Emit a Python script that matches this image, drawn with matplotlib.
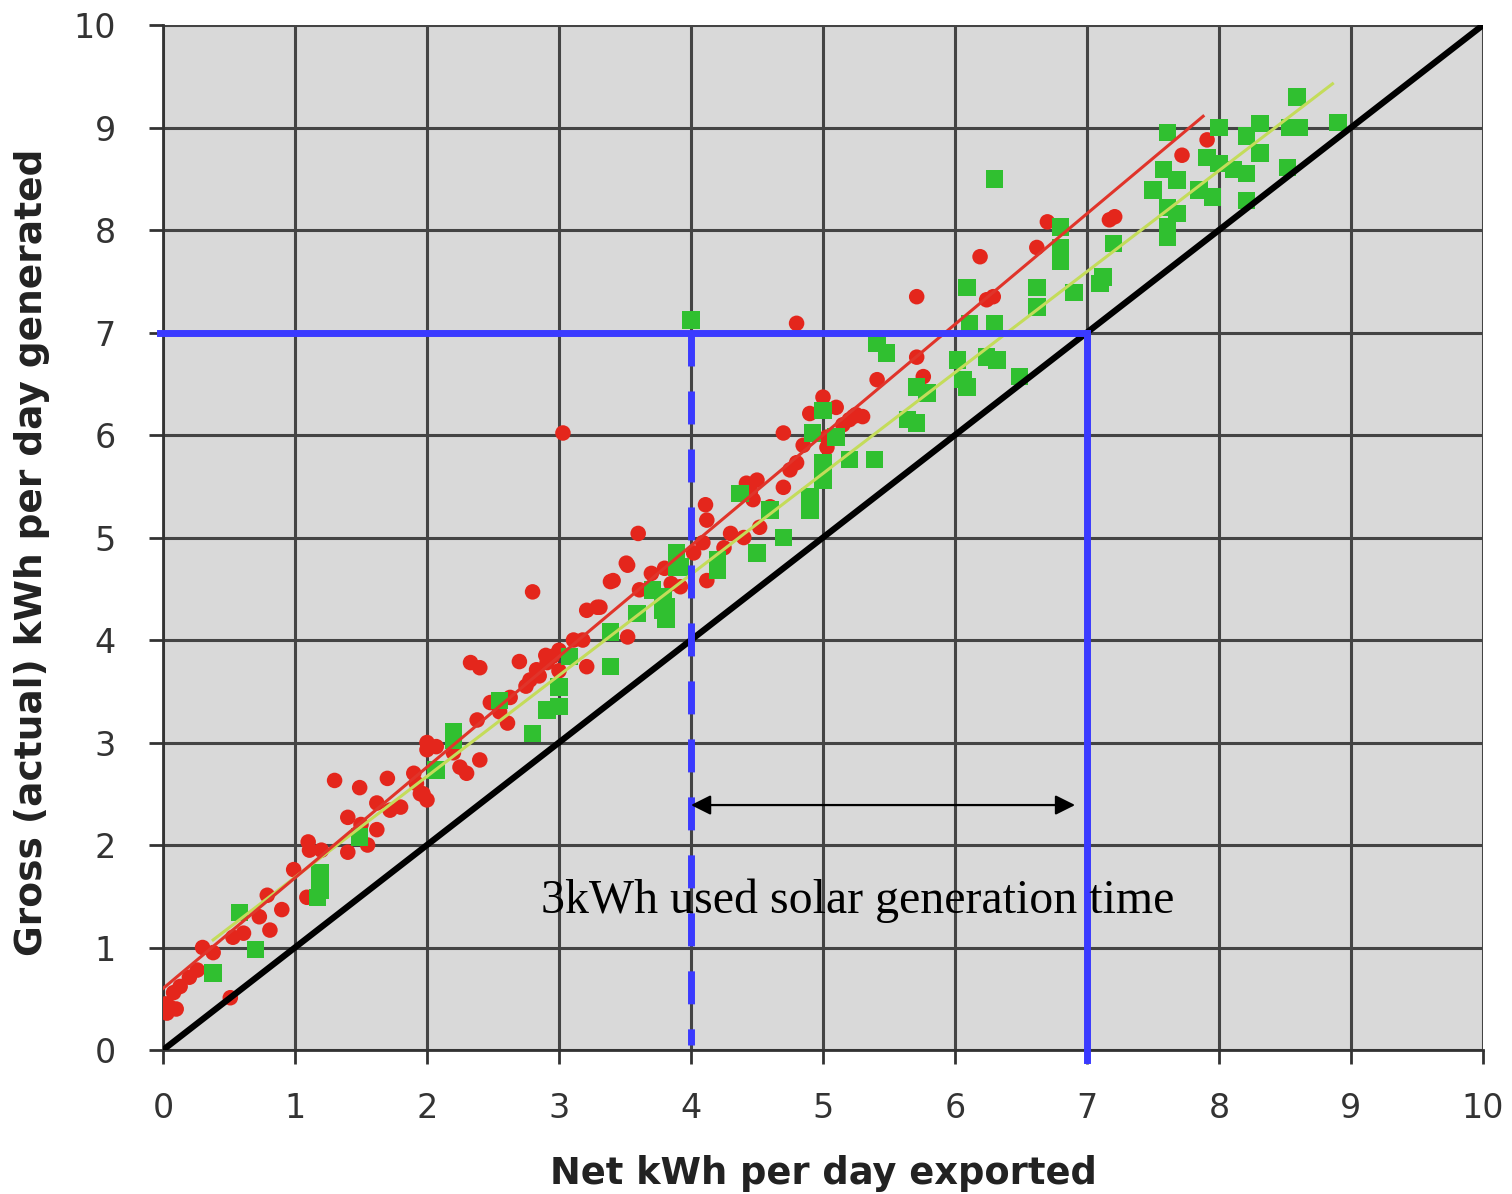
import matplotlib
matplotlib.use("Agg")
import matplotlib.pyplot as plt
import numpy as np

# net exported (x) vs gross generated (y)
red_x = [0.03, 0.05, 0.02, 0.08, 0.10, 0.13, 0.20, 0.26, 0.30, 0.38, 0.51, 0.53, 0.61, 0.73, 0.79,
         0.81, 0.90, 0.99, 1.09, 1.10, 1.11, 1.20, 1.30, 1.40, 1.40, 1.49, 1.50, 1.55, 1.62, 1.62,
         1.70, 1.72, 1.80, 1.90, 1.92, 1.95, 1.97, 2.00, 2.00, 2.00, 2.07, 2.20, 2.25, 2.30, 2.33,
         2.38, 2.40, 2.40, 2.48, 2.55, 2.61, 2.63, 2.70, 2.75, 2.78, 2.80, 2.83, 2.85, 2.90, 2.91,
         2.95, 3.00, 3.00, 3.03, 3.11, 3.18, 3.21, 3.21, 3.29, 3.31, 3.39, 3.41, 3.51, 3.52, 3.52,
         3.60, 3.61, 3.70, 3.80, 3.85, 3.92, 4.02, 4.09, 4.11, 4.12, 4.12, 4.20, 4.25, 4.30, 4.40,
         4.42, 4.45, 4.47, 4.50, 4.52, 4.60, 4.70, 4.70, 4.75, 4.80, 4.80, 4.85, 4.90, 5.00, 5.03,
         5.03, 5.10, 5.15, 5.20, 5.23, 5.25, 5.30, 5.41, 5.71, 5.71, 5.76, 6.19, 6.24, 6.29, 6.62,
         6.70, 7.17, 7.21, 7.72, 7.91]
red_y = [0.36, 0.42, 0.45, 0.56, 0.40, 0.62, 0.71, 0.78, 1.00, 0.95, 0.51, 1.10, 1.14, 1.30, 1.51,
         1.17, 1.37, 1.76, 1.49, 2.03, 1.95, 1.95, 2.63, 2.27, 1.93, 2.56, 2.20, 2.00, 2.41, 2.15,
         2.65, 2.34, 2.37, 2.70, 2.60, 2.50, 2.50, 2.44, 2.93, 3.00, 2.96, 2.90, 2.76, 2.70, 3.78,
         3.22, 3.73, 2.83, 3.39, 3.30, 3.19, 3.44, 3.79, 3.55, 3.61, 4.47, 3.71, 3.65, 3.85, 3.78,
         3.84, 3.70, 3.90, 6.02, 4.00, 4.00, 3.74, 4.29, 4.32, 4.32, 4.57, 4.58, 4.75, 4.73, 4.03,
         5.04, 4.49, 4.65, 4.70, 4.55, 4.52, 4.85, 4.95, 5.32, 5.17, 4.58, 4.75, 4.90, 5.04, 5.00,
         5.53, 5.45, 5.37, 5.56, 5.10, 5.30, 6.02, 5.49, 5.66, 5.73, 7.09, 5.90, 6.21, 6.37, 5.98,
         5.88, 6.27, 6.10, 6.15, 6.18, 6.20, 6.18, 6.54, 7.35, 6.76, 6.57, 7.74, 7.32, 7.35, 7.83,
         8.08, 8.10, 8.13, 8.73, 8.88]

green_x = [0.38, 0.58, 0.70, 1.17, 1.19, 1.19, 1.49, 2.07, 2.20, 2.20, 2.55, 2.80, 2.91, 3.00, 3.00,
           3.08, 3.39, 3.39, 3.59, 3.71, 3.79, 3.79, 3.81, 3.81, 3.89, 3.89, 3.92, 4.00, 4.20, 4.20,
           4.37, 4.50, 4.60, 4.70, 4.90, 4.90, 4.92, 5.00, 5.00, 5.00, 5.10, 5.20, 5.39, 5.41, 5.48,
           5.64, 5.71, 5.71, 5.79, 6.02, 6.06, 6.09, 6.09, 6.11, 6.24, 6.30, 6.30, 6.32, 6.49, 6.62,
           6.62, 6.80, 6.80, 6.80, 6.90, 7.10, 7.12, 7.20, 7.50, 7.58, 7.61, 7.61, 7.61, 7.61, 7.68,
           7.68, 7.85, 7.91, 7.95, 8.00, 8.00, 8.11, 8.21, 8.21, 8.21, 8.31, 8.31, 8.52, 8.54, 8.59,
           8.61, 8.90]
green_y = [0.75, 1.34, 0.98, 1.49, 1.56, 1.73, 2.08, 2.73, 3.02, 3.10, 3.41, 3.09, 3.32, 3.35, 3.54,
           3.84, 3.74, 4.08, 4.26, 4.49, 4.29, 4.42, 4.32, 4.20, 4.71, 4.85, 4.71, 7.12, 4.78, 4.68,
           5.43, 4.85, 5.27, 5.00, 5.27, 5.40, 6.02, 5.56, 5.73, 6.24, 5.98, 5.76, 5.76, 6.90, 6.80,
           6.15, 6.47, 6.12, 6.41, 6.73, 6.54, 6.47, 7.44, 7.09, 6.76, 8.50, 7.09, 6.73, 6.57, 7.44,
           7.25, 8.03, 7.83, 7.70, 7.39, 7.48, 7.54, 7.87, 8.39, 8.59, 8.95, 8.22, 8.03, 7.93, 8.49,
           8.16, 8.39, 8.71, 8.32, 9.00, 8.65, 8.59, 8.92, 8.55, 8.29, 9.04, 8.75, 8.61, 9.00, 9.30,
           9.00, 9.05]

# trendlines as drawn: slope, intercept, x range
red_fit = (1.08, 0.60, 0.0, 7.88)
green_fit = (0.985, 0.70, 0.38, 8.86)

ticks = list(range(0, 11))

fig = plt.figure(figsize=(15.12, 11.94), dpi=100)
ax = fig.add_axes([0.1078, 0.1206, 0.8730, 0.8584])
ax.set_facecolor("#d9d9d9")
ax.set_xlim(0, 10)
ax.set_ylim(0, 10)
ax.set_xticks(ticks)
ax.set_yticks(ticks)
ax.grid(True, color="#444444", linewidth=2.2, zorder=0)
ax.set_axisbelow(True)
for s in ["top", "right"]:
    ax.spines[s].set_visible(False)
ax.spines["left"].set_color("#333333")
ax.spines["bottom"].set_color("#333333")
ax.spines["left"].set_linewidth(2)
ax.spines["bottom"].set_linewidth(2)
ax.tick_params(direction="out", length=10, width=2, color="#333333",
               labelsize=24, labelcolor="#333333")
ax.tick_params(axis="x", pad=20)
ax.tick_params(axis="y", pad=24)

ax.scatter(red_x, red_y, s=125, marker="o", color="#e4261c", edgecolors="none", zorder=3)
ax.scatter(green_x, green_y, s=160, marker="s", color="#30c030", edgecolors="none", zorder=3)

for (m, b, x0, x1), c in [(green_fit, "#c4dc5a"), (red_fit, "#e0342a")]:
    xs = np.array([x0, x1])
    ax.plot(xs, m * xs + b, color=c, linewidth=2.2, zorder=4)

# 1:1 line
ax.plot([0, 10], [0, 10], color="black", linewidth=4.5, zorder=5, solid_capstyle="butt")

blue = "#3a3aff"
ax.plot([-0.02, 7], [7, 7], color=blue, linewidth=5, zorder=6, clip_on=False)
ax.plot([7, 7], [7, -0.1], color=blue, linewidth=5, zorder=6, clip_on=False)
ax.plot([4, 4], [7, 0.05], color=blue, linewidth=5, zorder=6, dashes=(4.75, 3.6))

ax.annotate("", xy=(4.0, 2.39), xytext=(6.91, 2.39),
            arrowprops=dict(arrowstyle="<|-|>", color="black", lw=1.6,
                            mutation_scale=30, shrinkA=0, shrinkB=0), zorder=7)
ax.text(5.26, 1.46, "3kWh used solar generation time", family="Liberation Serif",
        fontsize=34.5, ha="center", va="center", zorder=7)

ax.set_xlabel("Net kWh per day exported", fontsize=26.5, fontweight="bold",
              color="#222222", labelpad=22)
ax.set_ylabel("Gross (actual) kWh per day generated", fontsize=27, fontweight="bold",
              color="#222222")
ax.yaxis.set_label_coords(-0.0856, 0.486)

fig.savefig("out.png", dpi=100)
